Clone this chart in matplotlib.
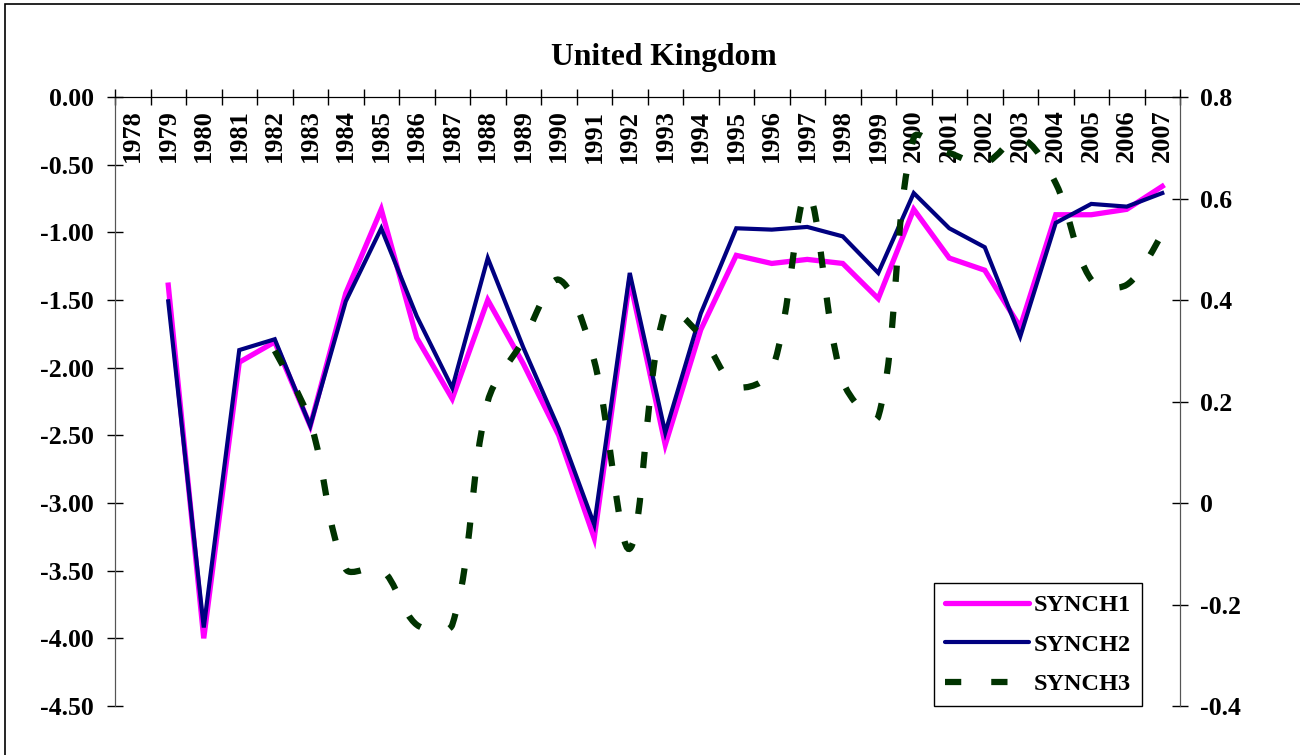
import numpy as np
import matplotlib
matplotlib.use("Agg")
import matplotlib.pyplot as plt
from matplotlib.path import Path
from matplotlib.patches import PathPatch, Rectangle
from matplotlib.lines import Line2D

plt.rcParams["font.family"] = ["Liberation Serif", "DejaVu Serif"]
plt.rcParams["font.weight"] = "bold"

years = [str(y) for y in range(1978, 2008)]

# left axis
synch1 = [np.nan, -1.39, -4.00, -1.96, -1.81, -2.43, -1.45, -0.83, -1.78, -2.23,
          -1.50, -1.97, -2.50, -3.26, -1.35, -2.57, -1.72, -1.17, -1.23, -1.20,
          -1.23, -1.49, -0.83, -1.19, -1.28, -1.70, -0.87, -0.87, -0.83, -0.66]
synch2 = [np.nan, -1.51, -3.92, -1.87, -1.79, -2.43, -1.51, -0.97, -1.62, -2.15,
          -1.19, -1.85, -2.45, -3.16, -1.30, -2.48, -1.60, -0.97, -0.98, -0.96,
          -1.03, -1.30, -0.71, -0.97, -1.11, -1.77, -0.93, -0.79, -0.81, -0.71]
# right axis
synch3 = [np.nan, np.nan, np.nan, np.nan, 0.30, 0.16, -0.13, -0.13, -0.24, -0.24,
          0.20, 0.32, 0.44, 0.28, -0.09, 0.38, 0.33, 0.23, 0.26, 0.61,
          0.24, 0.17, 0.72, 0.69, 0.67, 0.72, 0.63, 0.44, 0.43, 0.53]

C1, C2, C3 = "#FF00FF", "#000080", "#003300"
DASH = (0, (2.6, 4.8))


def smooth_path(a, xs, ys):
    # Excel-style smoothed line, control points worked out in screen space
    pts = a.transData.transform(np.column_stack([xs, ys]))
    n = len(pts)
    d = np.hypot(*np.diff(pts, axis=0).T)
    verts = [pts[0]]
    codes = [Path.MOVETO]
    for i in range(n - 1):
        p0 = pts[max(i - 1, 0)]
        p1, p2 = pts[i], pts[i + 1]
        p3 = pts[min(i + 2, n - 1)]
        dl = d[i - 1] if i > 0 else d[i]
        dr = d[i + 1] if i + 2 < n else d[i]
        c1 = p1 + (p2 - p0) * d[i] / (dl + d[i]) / 3
        c2 = p2 - (p3 - p1) * d[i] / (d[i] + dr) / 3
        verts += [c1, c2, p2]
        codes += [Path.CURVE4] * 3
    return Path(a.transData.inverted().transform(np.array(verts)), codes)


fig = plt.figure(figsize=(13, 7.55), dpi=100)
ax = fig.add_axes([115 / 1300, 1 - 706 / 755, 1065 / 1300, 609 / 755])
ax2 = ax.twinx()

x = np.arange(len(years))
ax.plot(x, synch1, color=C1, lw=3.8, solid_joinstyle="miter", zorder=3)
ax.plot(x, synch2, color=C2, lw=3.0, solid_joinstyle="miter", zorder=4)

ax.set_xlim(-0.5, len(years) - 0.5)
ax.set_ylim(-4.5, 0)
ax.set_yticks(np.arange(-4.5, 0.01, 0.5))
ax.yaxis.set_major_formatter(matplotlib.ticker.FormatStrFormatter("%.2f"))
ax2.set_ylim(-0.4, 0.8)
ax2.set_yticks(np.arange(-0.4, 0.81, 0.2))
ax2.set_yticklabels(["-0.4", "-0.2", "0", "0.2", "0.4", "0.6", "0.8"])

s3 = np.array(synch3)
ok = ~np.isnan(s3)
ax2.add_patch(PathPatch(smooth_path(ax2, x[ok], s3[ok]), fill=False, edgecolor=C3,
                        lw=4.5, linestyle=DASH, capstyle="butt"))

for a in (ax, ax2):
    a.spines["bottom"].set_visible(False)
    a.spines["top"].set_color("black")
    a.spines["left"].set_color("#555555")
    a.spines["right"].set_color("#555555")
ax.tick_params(axis="y", direction="inout", length=11.5, width=1, pad=9.5, labelsize=18.5)
ax2.tick_params(axis="y", direction="inout", length=11.5, width=1, pad=9, labelsize=18.5)

ax.xaxis.set_ticks_position("top")
ax.set_xticks(x)
ax.set_xticklabels([])
ax.set_xticks(np.arange(-0.5, len(years)), minor=True)
ax.tick_params(axis="x", which="major", length=0)
ax.tick_params(axis="x", which="minor", direction="inout", length=11.5, width=1)
for i, yr in enumerate(years):
    ax.annotate(yr, xy=(i, 0), xytext=(0, -9), textcoords="offset points",
                rotation=90, ha="center", va="top", fontsize=19, fontweight="bold")

fig.text(664 / 1300, 1 - 57 / 755, "United Kingdom", ha="center", va="center",
         fontsize=22.8, fontweight="bold")

handles = [Line2D([], [], color=C1, lw=3.8, solid_capstyle="round"),
           Line2D([], [], color=C2, lw=3.0, solid_capstyle="round"),
           Line2D([], [], color=C3, lw=4.5, linestyle=DASH, dash_capstyle="butt")]
leg = ax2.legend(handles, ["SYNCH1", "SYNCH2", "SYNCH3"], loc="lower right",
                 bbox_to_anchor=(1142 / 1300, 1 - 706 / 755), bbox_transform=fig.transFigure,
                 borderaxespad=0, fancybox=False, framealpha=1, edgecolor="black",
                 prop={"size": 17.5, "weight": "bold"}, handlelength=3.45,
                 handletextpad=0.2, labelspacing=0.72, borderpad=0.45)
leg.get_frame().set_linewidth(1)

fig.patches.append(Rectangle((5 / 1300, -0.1), 1.2, 1.1 - 4 / 755, transform=fig.transFigure,
                             fill=False, edgecolor="black", lw=1.2))

fig.savefig("out.png", dpi=100)
